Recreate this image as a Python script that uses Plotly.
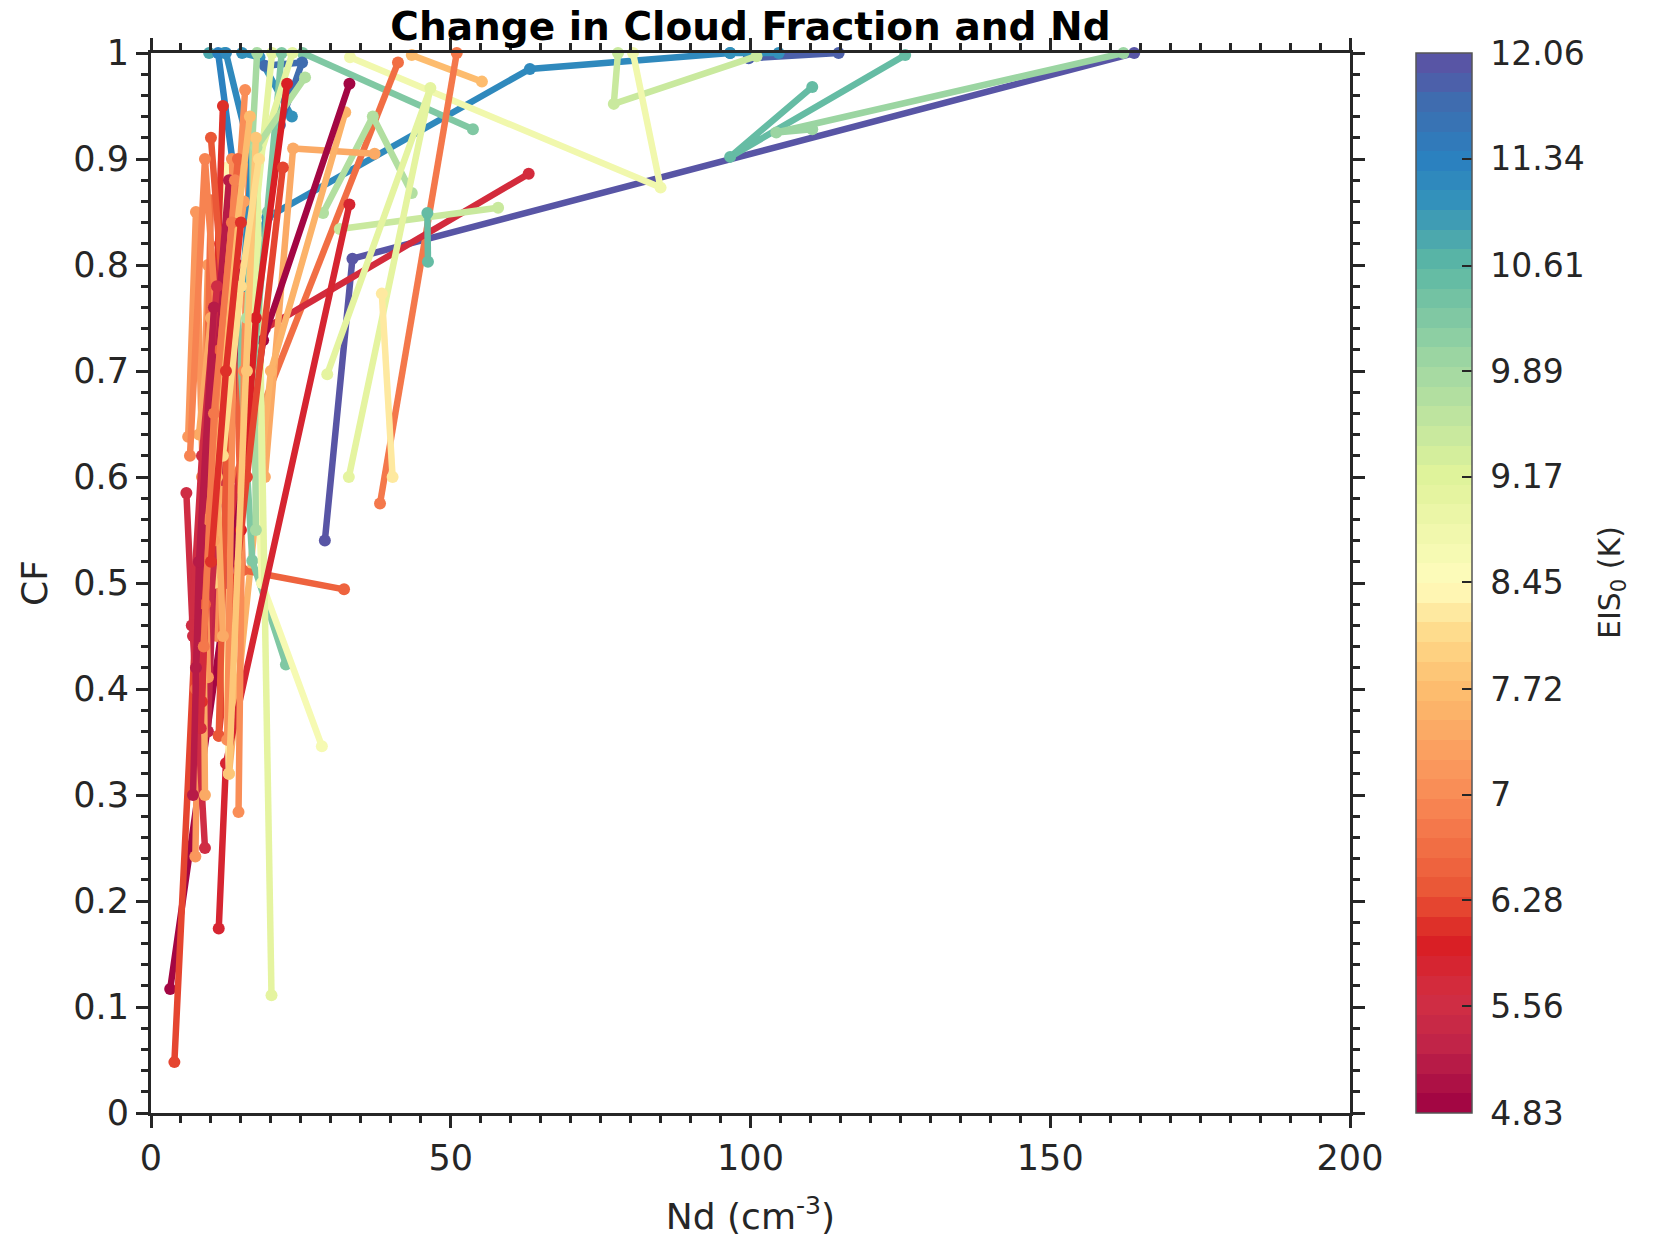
import plotly.graph_objects as go
from plotly.colors import sample_colorscale

# ---------------- data ----------------
eis_values = [12.0, 11.85, 11.2, 11.0, 9.4, 8.75, 10.5, 9.95, 10.2, 7.75,
              6.8, 6.7, 5.75, 9.5, 10.55, 9.7, 7.4, 7.6, 9.0, 8.2,
              6.5, 10.3, 8.6, 9.1, 5.85, 4.95, 6.2, 7.2, 7.0, 10.8,
              11.3, 11.15, 11.1, 11.7, 9.8, 9.0, 10.3, 9.05, 9.7, 6.0,
              7.0, 6.6, 5.3, 6.3, 8.0, 8.4, 5.4, 5.5, 7.2, 7.4,
              5.0, 6.1, 5.7, 6.4, 7.1, 7.8, 7.5, 6.9,
              5.2, 6.45, 7.3, 5.6, 6.9, 7.65, 5.15, 6.75, 8.1, 6.05]

nd_tracks = [
    [29.0, 33.6, 164.0], [99.7, 114.7], [14.9, 19.4, 63.2, 96.6], [96.6, 104.7],
    [77.9, 77.2, 101.0], [33.2, 85.0, 80.4], [110.3, 96.6, 125.8], [110.3, 104.3, 162.2],
    [25.3, 53.7], [43.5, 55.2], [51.0, 38.2], [41.2, 14.0],
    [63.0, 19.0, 10.0], [57.9, 31.5], [46.1, 46.2], [28.7, 37.0, 43.5],
    [37.3, 23.7, 19.0], [32.4, 20.0, 13.0], [29.4, 46.6, 33.0], [38.5, 40.3],
    [32.2, 15.3, 13.5], [22.5, 16.9, 14.0], [28.5, 18.5, 16.0], [17.7, 20.1],
    [33.1, 12.5, 11.3], [33.1, 18.7, 3.2], [3.9, 9.5, 11.5], [7.4, 8.5, 9.5],
    [14.6, 15.5, 16.5], [9.7, 12.2], [11.2, 14.5, 12.8], [12.5, 16.8, 15.3],
    [15.2, 18.1, 23.5], [19.0, 25.2, 21.5], [17.7, 16.9, 17.5], [20.2, 17.5, 16.0],
    [21.8, 19.5, 17.0], [23.6, 18.0, 16.5], [25.7, 17.6, 16.0], [22.7, 17.5, 15.0],
    [15.7, 12.5, 11.0], [10.0, 9.0, 7.5], [12.4, 11.0, 9.5], [22.0, 16.0, 11.3],
    [14.6, 12.5, 10.5], [12.7, 11.5, 13.0], [14.0, 11.0, 8.3], [5.9, 7.0, 9.0],
    [6.2, 7.5, 9.5], [11.8, 8.7, 9.0], [12.5, 14.5], [8.5, 10.5, 12.0],
    [8.3, 11.0], [11.3, 13.0, 10.0], [12.7, 14.0, 13.5], [13.0, 16.0, 17.5],
    [8.0, 10.0, 12.0], [6.5, 9.0, 11.5],
    [7.5, 9.5, 13.0], [9.0, 11.5, 14.5], [10.5, 13.5, 15.5], [6.8, 8.5, 11.0],
    [9.5, 12.0, 14.0], [11.0, 14.0, 16.5], [7.0, 8.0, 10.5], [8.8, 10.5, 13.5],
    [12.0, 15.0, 18.0], [10.0, 12.5, 15.0],
]

cf_tracks = [
    [0.540, 0.806, 1.000], [0.995, 1.000], [0.792, 0.845, 0.985, 1.000], [1.000, 1.000],
    [1.000, 0.952, 0.997], [0.996, 0.873, 1.000], [0.968, 0.902, 0.998], [0.928, 0.925, 1.000],
    [1.000, 0.928], [0.998, 0.973], [1.000, 0.575], [0.991, 0.600],
    [0.886, 0.740, 0.450], [0.854, 0.834], [0.849, 0.803], [0.849, 0.940, 0.868],
    [0.905, 0.910, 0.600], [0.944, 0.700, 0.320], [0.697, 0.967, 0.600], [0.773, 0.600],
    [0.494, 0.512, 0.850], [0.423, 0.521, 0.800], [0.346, 0.500, 0.850], [0.900, 0.111],
    [0.857, 0.330, 0.174], [0.971, 0.729, 0.117], [0.048, 0.700, 0.820], [0.242, 0.600, 0.800],
    [0.284, 0.700, 0.930], [1.000, 1.000], [1.000, 0.860, 0.600], [1.000, 0.900, 0.780],
    [1.000, 0.996, 0.940], [0.988, 0.991, 0.932], [1.000, 0.917, 0.550], [1.000, 0.850, 0.650],
    [1.000, 0.850, 0.700], [1.000, 0.900, 0.700], [0.977, 0.911, 0.750], [0.971, 0.750, 0.550],
    [0.965, 0.700, 0.450], [0.861, 0.600, 0.400], [0.822, 0.600, 0.360], [0.892, 0.600, 0.356],
    [0.847, 0.650, 0.500], [0.892, 0.700, 0.320], [0.771, 0.550, 0.363], [0.585, 0.450, 0.250],
    [0.638, 0.850, 0.411], [0.586, 0.521, 0.300], [0.500, 0.800], [0.388, 0.700, 0.950],
    [0.363, 0.800], [0.356, 0.700, 0.920], [0.352, 0.800, 0.900], [0.320, 0.700, 0.920],
    [0.640, 0.750, 0.450], [0.620, 0.900, 0.700],
    [0.420, 0.640, 0.880], [0.480, 0.720, 0.900], [0.540, 0.780, 0.860], [0.460, 0.620, 0.780],
    [0.560, 0.700, 0.880], [0.600, 0.820, 0.940], [0.300, 0.520, 0.760], [0.440, 0.660, 0.840],
    [0.620, 0.780, 0.900], [0.520, 0.700, 0.840],
]

cbar_ticks = [4.83, 5.56, 6.28, 7.0, 7.72, 8.45, 9.17, 9.89, 10.61, 11.34, 12.06]
cbar_labels = ["4.83", "5.56", "6.28", "7", "7.72", "8.45", "9.17", "9.89", "10.61", "11.34", "12.06"]
x_ticks = [0, 50, 100, 150, 200]

# ---------------- colour map (Spectral-like, banded) ----------------
CMIN, CMAX = 4.83, 12.06
N_BANDS = 54
anchors = [
    [0.00, "#9e0142"], [0.06, "#bf2348"], [0.11, "#d22f43"], [0.16, "#d91e23"],
    [0.21, "#ea5636"], [0.30, "#f98b56"], [0.40, "#fdbd6e"], [0.45, "#fed989"],
    [0.50, "#fffcbc"], [0.60, "#e0f39b"], [0.70, "#a4d9a2"], [0.80, "#5cb8a4"],
    [0.86, "#3391bb"], [0.90, "#2b80bf"], [0.95, "#3d6eb0"], [1.00, "#5e4fa2"],
]
band_cols = sample_colorscale(anchors, [(i + 0.5) / N_BANDS for i in range(N_BANDS)])
banded = []
for i, c in enumerate(band_cols):
    banded.append([i / N_BANDS, c])
    banded.append([(i + 1) / N_BANDS, c])


def colour_for(v):
    t = (v - CMIN) / (CMAX - CMIN)
    k = min(max(int(t * N_BANDS), 0), N_BANDS - 1)
    return band_cols[k]


FONT = "DejaVu Sans"
AX = "#262626"

fig = go.Figure()
for v, xs, ys in zip(eis_values, nd_tracks, cf_tracks):
    col = colour_for(v)
    fig.add_trace(go.Scatter(
        x=xs, y=ys, mode="lines+markers",
        line=dict(color=col, width=6.5),
        marker=dict(color=col, size=12, symbol="circle"),
        showlegend=False, hoverinfo="skip", cliponaxis=False,
    ))

# colour bar carrier
fig.add_trace(go.Scatter(
    x=[0], y=[-5], mode="markers", showlegend=False, hoverinfo="skip",
    marker=dict(color=[CMIN], colorscale=banded, cmin=CMIN, cmax=CMAX, size=1,
                showscale=True,
                colorbar=dict(
                    x=1.055, xanchor="left", y=0.5, yanchor="middle",
                    len=1.0, lenmode="fraction", thickness=56, xpad=0, ypad=0,
                    outlinewidth=1.5, outlinecolor="#555555",
                    tickmode="array", tickvals=cbar_ticks,
                    ticktext=[" " + t for t in cbar_labels],
                    ticks="inside", ticklen=10, tickwidth=1.5, tickcolor=AX,
                    tickfont=dict(family=FONT, size=33, color=AX),
                )),
))

axis_common = dict(
    showline=True, linewidth=3, linecolor=AX, mirror="ticks",
    ticks="outside", tickwidth=3, tickcolor=AX, ticklen=12,
    showgrid=False, zeroline=False, automargin=False,
    tickfont=dict(family=FONT, size=35, color=AX),
)

fig.update_xaxes(
    range=[0, 200], tickmode="array", tickvals=x_ticks,
    minor=dict(dtick=5, ticks="outside", ticklen=7, tickwidth=3, tickcolor=AX, showgrid=False),
    title=dict(text="Nd (cm<sup>-3</sup>)", font=dict(family=FONT, size=36, color=AX), standoff=30),
    **axis_common,
)
fig.update_yaxes(
    range=[0, 1], dtick=0.1, tick0=0,
    minor=dict(dtick=0.02, ticks="outside", ticklen=7, tickwidth=3, tickcolor=AX, showgrid=False),
    title=dict(text="CF", font=dict(family=FONT, size=36, color=AX), standoff=15),
    **axis_common,
)

fig.update_layout(
    width=1654, height=1237,
    margin=dict(l=151, r=304, t=53, b=124, pad=0, autoexpand=False),
    paper_bgcolor="white", plot_bgcolor="white",
    title=dict(text="<b>Change in Cloud Fraction and Nd</b>", x=0.4537, xanchor="center",
               y=0.979, yanchor="middle",
               font=dict(family=FONT, size=39, color="black")),
    annotations=[dict(
        text="EIS<sub>0</sub> (K)", textangle=-90, showarrow=False,
        xref="paper", yref="paper", x=1.2177, y=0.5, xanchor="center", yanchor="middle",
        font=dict(family=FONT, size=30, color=AX),
    )],
)

fig.write_html("out.html")
